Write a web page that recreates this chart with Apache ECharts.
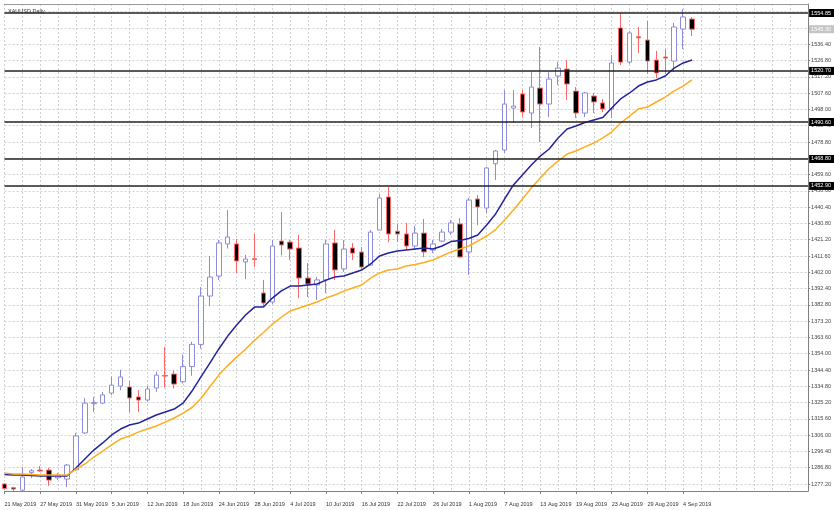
<!DOCTYPE html>
<html>
<head>
<meta charset="utf-8">
<title>XAUUSD,Daily</title>
<script src="https://cdn.jsdelivr.net/npm/echarts@6/dist/echarts.min.js"></script>
<style>
  html, body { margin: 0; padding: 0; background: #fff; }
  #chart { width: 834px; height: 510px; }
</style>
</head>
<body>
<div id="chart"></div>
<script>
// daily bars, 21 May 2019 .. 5 Sep 2019
const dates = [
  '21 May','22 May','23 May','24 May','27 May','28 May','29 May','30 May','31 May',
  '3 Jun','4 Jun','5 Jun','6 Jun','7 Jun','10 Jun','11 Jun','12 Jun','13 Jun','14 Jun',
  '17 Jun','18 Jun','19 Jun','20 Jun','21 Jun','24 Jun','25 Jun','26 Jun','27 Jun','28 Jun',
  '1 Jul','2 Jul','3 Jul','4 Jul','5 Jul','8 Jul','9 Jul','10 Jul','11 Jul','12 Jul',
  '15 Jul','16 Jul','17 Jul','18 Jul','19 Jul','22 Jul','23 Jul','24 Jul','25 Jul','26 Jul',
  '29 Jul','30 Jul','31 Jul','1 Aug','2 Aug','5 Aug','6 Aug','7 Aug','8 Aug','9 Aug',
  '12 Aug','13 Aug','14 Aug','15 Aug','16 Aug','19 Aug','20 Aug','21 Aug','22 Aug','23 Aug',
  '26 Aug','27 Aug','28 Aug','29 Aug','30 Aug','2 Sep','3 Sep','4 Sep','5 Sep'
];
const emptyBars = 13; // chart shift on the right

// one label every 4 bars, as printed on the chart
const tickLabels = [
  '21 May 2019','27 May 2019','31 May 2019','5 Jun 2019','12 Jun 2019','18 Jun 2019',
  '24 Jun 2019','28 Jun 2019','4 Jul 2019','10 Jul 2019','16 Jul 2019','22 Jul 2019',
  '26 Jul 2019','1 Aug 2019','7 Aug 2019','13 Aug 2019','19 Aug 2019','23 Aug 2019',
  '29 Aug 2019','4 Sep 2019'
];

const open = [
  1277.2,1275.0,1273.6,1283.9,1285.4,1285.4,1280.8,1280.1,1285.5,
  1307.3,1324.6,1324.9,1330.8,1334.9,1334.4,1328.5,1326.7,1333.8,1341.2,
  1342.0,1337.5,1346.4,1359.5,1388.0,1399.8,1418.7,1418.7,1408.1,1410.0,
  1389.8,1384.5,1420.4,1419.8,1416.3,1398.6,1394.5,1397.5,1419.3,1404.0,
  1416.3,1413.9,1406.2,1426.9,1446.4,1426.2,1424.6,1417.5,1425.1,1415.1,
  1420.4,1425.7,1430.5,1414.0,1445.2,1439.9,1466.0,1474.1,1498.8,1507.1,
  1495.9,1510.6,1501.2,1517.7,1521.8,1508.8,1495.9,1505.9,1501.8,1498.3,
  1546.0,1525.9,1540.8,1538.9,1527.1,1528.9,1526.5,1545.4,1551.3
];
const high = [
  1277.8,1275.6,1287.2,1286.0,1287.8,1286.6,1283.7,1289.0,1307.3,
  1327.9,1328.5,1331.4,1340.5,1344.5,1338.0,1332.5,1335.0,1343.5,1358.0,
  1344.0,1353.5,1361.0,1393.3,1411.6,1421.0,1438.7,1421.6,1412.2,1424.7,
  1397.5,1421.0,1437.5,1421.0,1424.0,1407.5,1399.2,1421.0,1426.9,1421.0,
  1419.3,1416.9,1426.9,1448.1,1452.2,1430.5,1431.1,1429.3,1433.4,1421.0,
  1427.5,1432.8,1434.0,1445.8,1447.5,1464.1,1474.1,1509.4,1509.4,1509.4,
  1520.0,1534.8,1520.0,1526.0,1527.1,1511.2,1508.3,1507.7,1504.2,1530.1,
  1554.8,1544.2,1546.6,1550.1,1532.5,1533.6,1549.0,1557.2,1552.5
];
const low = [
  1273.7,1273.1,1273.1,1280.7,1284.3,1276.0,1279.5,1275.4,1285.0,
  1306.7,1319.6,1324.3,1329.5,1332.5,1319.6,1319.6,1325.5,1331.5,1334.0,
  1333.5,1336.5,1341.0,1357.0,1382.1,1397.5,1416.0,1401.6,1398.0,1405.2,
  1382.1,1383.3,1411.9,1409.2,1386.8,1387.4,1385.7,1389.8,1397.5,1402.2,
  1409.2,1403.4,1406.2,1426.9,1419.8,1419.8,1415.1,1415.1,1410.9,1413.4,
  1419.8,1424.0,1410.4,1400.5,1429.9,1437.0,1456.4,1472.3,1490.0,1493.5,
  1487.0,1478.8,1493.5,1512.4,1503.6,1492.9,1493.5,1495.9,1496.5,1492.9,
  1524.2,1524.8,1531.3,1518.9,1516.5,1518.9,1520.1,1533.6,1541.3
];
const close = [
  1274.6,1274.2,1281.3,1285.0,1284.9,1279.5,1282.0,1288.4,1305.5,
  1324.9,1325.2,1329.7,1335.5,1340.3,1327.9,1326.7,1333.2,1341.4,1340.8,
  1336.1,1346.4,1359.5,1388.0,1399.2,1419.3,1422.8,1408.7,1409.8,1409.5,
  1383.9,1417.5,1418.1,1415.7,1398.6,1395.1,1397.5,1418.7,1403.4,1415.7,
  1413.3,1405.1,1425.7,1445.8,1424.6,1424.6,1417.5,1425.1,1414.0,1418.7,
  1425.7,1431.1,1411.0,1444.6,1440.5,1463.5,1473.5,1501.2,1500.0,1496.5,
  1511.2,1501.2,1515.9,1522.4,1513.0,1495.9,1507.7,1502.4,1498.3,1525.4,
  1525.9,1543.1,1540.2,1526.5,1519.5,1528.3,1546.6,1552.5,1545.3
];

// moving averages as drawn (dark blue = fast, orange = slow)
const maFast = [
  1282.8,1282.5,1282.5,1282.2,1281.9,1281.9,1281.9,1281.9,1286.6,
  1291.9,1297.2,1301.4,1306.1,1309.6,1312.0,1313.1,1315.5,1317.9,1319.6,
  1321.4,1324.9,1332.0,1340.3,1348.5,1356.8,1364.4,1370.9,1376.8,1381.5,
  1381.5,1386.8,1391.0,1393.9,1393.9,1394.5,1395.1,1397.4,1399.2,1399.8,
  1401.6,1403.3,1406.9,1411.6,1413.4,1414.5,1415.1,1415.7,1416.3,1415.7,
  1417.5,1420.1,1420.7,1421.9,1424.0,1429.9,1436.4,1445.2,1453.5,1459.4,
  1465.2,1470.5,1474.7,1481.2,1486.5,1488.2,1490.3,1491.8,1493.2,1498.8,
  1504.2,1507.7,1511.8,1514.2,1515.4,1517.7,1522.4,1525.4,1527.1
];
const maSlow = [
  1283.7,1283.1,1283.1,1282.8,1282.5,1282.5,1282.5,1282.5,1286.0,
  1289.0,1293.1,1296.6,1300.2,1303.7,1305.5,1307.8,1309.6,1311.4,1313.7,
  1316.1,1319.0,1322.3,1327.6,1334.5,1341.4,1347.0,1352.0,1356.8,1361.9,
  1366.5,1371.5,1375.5,1379.2,1380.9,1382.7,1384.5,1386.8,1388.6,1390.9,
  1392.7,1394.5,1398.6,1401.6,1403.3,1403.9,1405.7,1406.6,1407.8,1409.3,
  1411.6,1414.0,1415.7,1417.5,1420.4,1423.4,1427.2,1432.8,1438.7,1445.2,
  1451.7,1457.6,1463.2,1467.6,1471.7,1473.5,1475.9,1478.2,1481.2,1484.7,
  1490.0,1494.1,1498.3,1499.4,1502.4,1505.3,1508.9,1511.8,1515.4
];

// price scale printed on the right
const yTicks = [
  1277.2,1286.8,1296.4,1306.0,1315.6,1325.2,1334.8,1344.4,1354.0,1363.6,
  1373.2,1382.8,1392.4,1402.0,1411.6,1421.2,1430.8,1440.4,1450.0,1459.6,
  1469.2,1478.8,1488.4,1498.0,1507.6,1517.2,1526.8,1536.4,1546.0,1555.6
];
const yMin = 1273.07;
const yMax = 1560.16;

// horizontal levels drawn on the chart
const levels = [1554.85, 1520.7, 1490.6, 1468.8, 1452.9];
const lastPrice = 1545.3;

const categories = dates.concat(new Array(emptyBars).fill(''));
const candles = dates.map((d, i) => [open[i], close[i], low[i], high[i]]);
const font = 'Liberation Sans';

const chart = echarts.init(document.getElementById('chart'));
chart.setOption({
  animation: false,
  backgroundColor: '#fff',
  title: {
    text: 'XAUUSD,Daily',
    left: 3,
    top: 3,
    textStyle: { fontSize: 5.5, fontWeight: 'normal', color: '#333', fontFamily: font }
  },
  grid: { left: 4.5, right: 20.5, top: 4, bottom: 19 },
  xAxis: [
    {
      type: 'category',
      data: categories,
      boundaryGap: false,
      axisLine: { lineStyle: { color: '#808080', width: 1 } },
      axisTick: {
        interval: (i) => i % 4 === 0 && i < dates.length,
        length: 3,
        lineStyle: { color: '#808080' }
      },
      axisLabel: {
        interval: 3,
        align: 'left',
        margin: 10,
        fontSize: 5.5,
        color: '#333',
        fontFamily: font,
        formatter: (v, i) => tickLabels[i / 4] || ''
      },
      splitLine: {
        show: true,
        interval: 1,
        lineStyle: { color: '#cfcfcf', type: [2, 2], width: 1 }
      }
    },
    {
      type: 'category',
      data: categories,
      position: 'top',
      boundaryGap: false,
      axisLine: { lineStyle: { color: '#9a9a9a' } },
      axisTick: { show: false },
      axisLabel: { show: false }
    }
  ],
  yAxis: {
    type: 'value',
    position: 'right',
    min: yMin,
    max: yMax,
    axisLine: { show: true, lineStyle: { color: '#808080' } },
    axisTick: { show: true, length: 2, customValues: yTicks, lineStyle: { color: '#808080' } },
    axisLabel: {
      customValues: yTicks,
      margin: 3,
      fontSize: 5.5,
      color: '#444',
      fontFamily: font,
      formatter: (v) => v.toFixed(2)
    },
    splitLine: { show: true, lineStyle: { color: '#cfcfcf', type: [2, 2], width: 1 } }
  },
  series: [
    {
      name: 'XAUUSD',
      type: 'candlestick',
      data: candles,
      barWidth: 5,
      clip: false,
      itemStyle: {
        color: '#ffffff',
        color0: '#000000',
        borderColor: '#8c8cdc',
        borderColor0: '#ff6666',
        borderWidth: 1
      },
      markLine: {
        silent: true,
        symbol: 'none',
        animation: false,
        data: levels.map(v => ({ yAxis: v })).concat([{
          yAxis: lastPrice,
          lineStyle: { color: 'rgba(0,0,0,0)', width: 1 },
          label: { backgroundColor: '#c4c4c4', color: '#fff' }
        }]),
        lineStyle: { color: '#222', width: 1.5, type: 'solid' },
        label: {
          position: 'end',
          distance: 1,
          formatter: (p) => p.value.toFixed(2),
          backgroundColor: '#000',
          color: '#fff',
          fontSize: 5.5,
          fontFamily: font,
          padding: [1, 3, 1, 2]
        }
      }
    },
    {
      name: 'MA fast',
      type: 'line',
      data: maFast,
      showSymbol: false,
      lineStyle: { color: '#23239b', width: 1.5 }
    },
    {
      name: 'MA slow',
      type: 'line',
      data: maSlow,
      showSymbol: false,
      lineStyle: { color: '#ffad1f', width: 1.5 }
    }
  ]
});
</script>
</body>
</html>
